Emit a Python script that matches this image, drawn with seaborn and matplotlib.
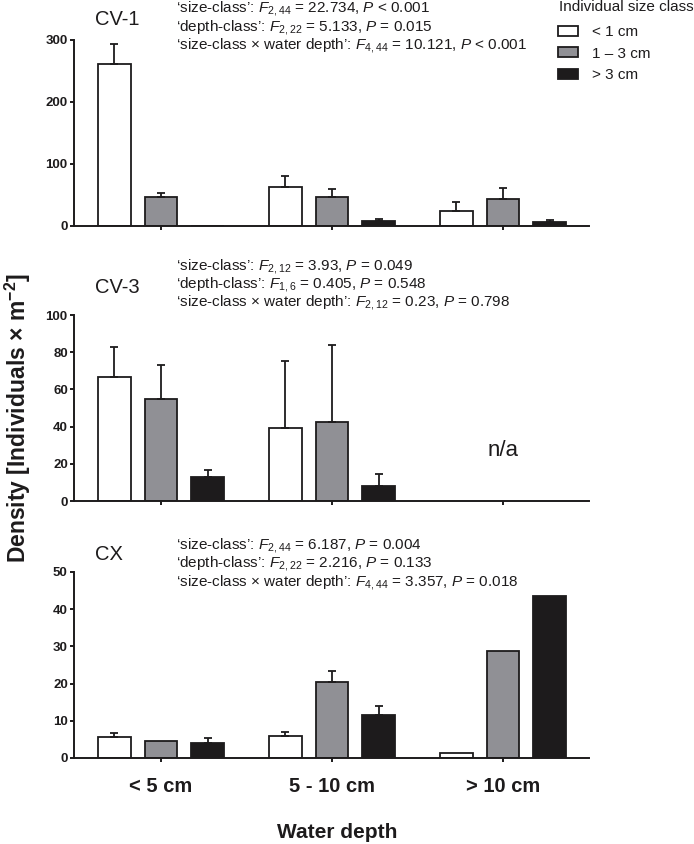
import numpy as np
import pandas as pd
import matplotlib
matplotlib.use('Agg')
import matplotlib.pyplot as plt
import seaborn as sns
from matplotlib.patches import Patch
from matplotlib.container import BarContainer

# categories
depths = ['< 5 cm', '5 - 10 cm', '> 10 cm']
sizes = ['< 1 cm', '1 – 3 cm', '> 3 cm']
size_colors = ['#ffffff', '#909095', '#1d1b1c']

# mean density (rows = size class, cols = depth class) and upper SE
cv1_mean = [[261, 63, 24.5], [47, 47, 43.5], [0.8, 8, 7]]
cv1_se = [[33, 18, 13.5], [7, 12, 18.5], [0, 3, 3]]
cv3_mean = [[66.5, 39, np.nan], [55, 42.7, np.nan], [12.7, 7.8, np.nan]]
cv3_se = [[16.5, 36.5, 0], [18, 41.3, 0], [3.7, 6.8, 0]]
cx_mean = [[5.6, 5.95, 1.3], [4.7, 20.3, 28.7], [4.05, 11.6, 43.5]]
cx_se = [[1.15, 0.95, 0], [0, 3.0, 0], [1.25, 2.3, 0]]

panel_names = ['CV-1', 'CV-3', 'CX']
panel_ymax = [300, 100, 50]
panel_ystep = [100, 20, 10]

stats_cv1 = [
    "‘size-class’: $F_{\\mathrm{2,44}}$ = 22.734, $P$ < 0.001",
    "‘depth-class’: $F_{\\mathrm{2,22}}$ = 5.133, $P$ = 0.015",
    "‘size-class × water depth’: $F_{\\mathrm{4,44}}$ = 10.121, $P$ < 0.001",
]
stats_cv3 = [
    "‘size-class’: $F_{\\mathrm{2,12}}$ = 3.93, $P$ = 0.049",
    "‘depth-class’: $F_{\\mathrm{1,6}}$ = 0.405, $P$ = 0.548",
    "‘size-class × water depth’: $F_{\\mathrm{2,12}}$ = 0.23, $P$ = 0.798",
]
stats_cx = [
    "‘size-class’: $F_{\\mathrm{2,44}}$ = 6.187, $P$ = 0.004",
    "‘depth-class’: $F_{\\mathrm{2,22}}$ = 2.216, $P$ = 0.133",
    "‘size-class × water depth’: $F_{\\mathrm{4,44}}$ = 3.357, $P$ = 0.018",
]

sns.set_style('ticks')
plt.rcParams['font.family'] = ['Liberation Sans', 'DejaVu Sans']
plt.rcParams['mathtext.fontset'] = 'custom'
plt.rcParams['mathtext.rm'] = 'Liberation Sans'
plt.rcParams['mathtext.it'] = 'Liberation Sans:italic'
plt.rcParams['mathtext.bf'] = 'Liberation Sans:bold'

W, H = 694, 844
fig = plt.figure(figsize=(W / 100, H / 100), dpi=100)


def px(x, y):
    return x / W, 1 - y / H


def long_table(means):
    rows = []
    for s, vals in zip(sizes, means):
        for d, v in zip(depths, vals):
            rows.append({'depth': d, 'size': s, 'density': v})
    return pd.DataFrame(rows)


ink = '#1d1b1c'
ax_top = [40, 315, 572]
ax_h = 186
title_base = [25, 293, 560]
stats_base = [[12, 31, 49], [270, 288, 306], [549.5, 567.5, 586]]

panels = [(cv1_mean, cv1_se, stats_cv1), (cv3_mean, cv3_se, stats_cv3), (cx_mean, cx_se, stats_cx)]
for i, (means, ses, stats) in enumerate(panels):
    top = ax_top[i]
    ax = fig.add_axes([74 / W, 1 - (top + ax_h) / H, 515 / W, ax_h / H])
    df = long_table(means)
    sns.barplot(data=df, x='depth', y='density', hue='size', order=depths, hue_order=sizes,
                palette=size_colors, saturation=1, width=0.82, gap=0.3,
                edgecolor=ink, linewidth=1.3, errorbar=None, legend=False, ax=ax)

    # one-sided SE bars on top of the seaborn bars
    bar_sets = [c for c in ax.containers if isinstance(c, BarContainer)]
    for k, cont in enumerate(bar_sets):
        for p in cont.patches:
            h = p.get_height()
            if not np.isfinite(h):
                continue
            xc = p.get_x() + p.get_width() / 2
            j = int(round(xc))
            e = ses[k][j]
            if e > 0:
                ax.errorbar([xc], [h], yerr=[[0], [e]], fmt='none', ecolor=ink,
                            elinewidth=1.3, capsize=3, capthick=1.3, zorder=1)

    ax.set_xlim(-0.509, 2.503)
    ax.set_ylim(0, panel_ymax[i])
    ax.set_yticks(np.arange(0, panel_ymax[i] + 1, panel_ystep[i]))
    sns.despine(ax=ax)
    for sp in ['left', 'bottom']:
        ax.spines[sp].set_linewidth(1.4)
        ax.spines[sp].set_color(ink)
    ax.tick_params(axis='both', length=3, width=1.4, color=ink, pad=1.5)
    ax.tick_params(axis='y', labelsize=9.5)
    for lab in ax.get_yticklabels():
        lab.set_fontweight('bold')
        lab.set_color(ink)
    ax.set_xlabel('')
    ax.set_ylabel('')
    if i < 2:
        ax.set_xticklabels([])
    else:
        ax.tick_params(axis='x', labelsize=14.5, pad=11)
        for lab in ax.get_xticklabels():
            lab.set_fontweight('bold')
            lab.set_color(ink)

    fig.text(*px(95, title_base[i]), panel_names[i], fontsize=14.5, color=ink, va='baseline')
    for line, yb in zip(stats, stats_base[i]):
        fig.text(*px(176, yb), line, fontsize=11, color=ink, va='baseline')

    if i == 1:
        ax.text(2, 24, 'n/a', fontsize=16, color=ink, ha='center', va='baseline')

fig.text(*px(18, 418), 'Density [Individuals × m$^{\\mathbf{-2}}$]', rotation=90,
         fontsize=16.5, fontweight='bold', color=ink, ha='center', va='center')
fig.text(*px(337, 832), 'Water depth', fontsize=15, fontweight='bold', color=ink,
         ha='center', va='center')

# legend: title as its own text, boxes below
fig.text(*px(559, 11), 'Individual size class', fontsize=11, color=ink, va='baseline')
handles = [Patch(facecolor=c, edgecolor=ink, linewidth=1.3) for c in size_colors]
leg = fig.legend(handles, sizes, loc='upper left',
                 bbox_to_anchor=px(558, 25), frameon=False, fontsize=11,
                 handlelength=1.3, handleheight=0.65, handletextpad=0.9,
                 labelspacing=0.5, borderpad=0, borderaxespad=0)
for t in leg.get_texts():
    t.set_color(ink)

fig.savefig('out.png', dpi=100)
